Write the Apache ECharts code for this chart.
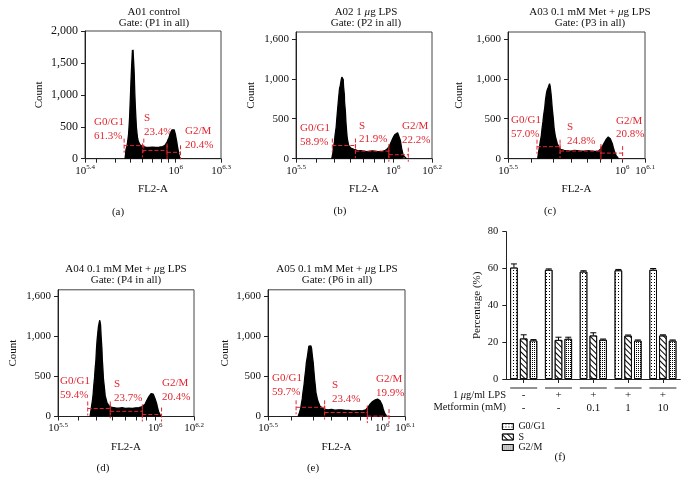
<!DOCTYPE html>
<html><head><meta charset="utf-8">
<script src="https://cdn.jsdelivr.net/npm/echarts@6/dist/echarts.min.js"></script>
<style>html,body{margin:0;padding:0;background:#fff}#c{width:689px;height:490px}</style>
</head><body><div id="c"></div>
<script>
const FONT = 'Liberation Serif';
const RED = '#e2262f';

// ---------- histogram data: [log10(FL2-A), count] ----------
const histA = [[5.665,0],[5.668,60],[5.671,140],[5.675,150],[5.678,200],[5.681,245],[5.684,300],[5.688,375],[5.691,480],[5.695,636],[5.698,820],[5.701,1000],[5.704,1200],[5.708,1417],[5.711,1560],[5.714,1700],[5.716,1640],[5.718,1704],[5.720,1600],[5.722,1573],[5.724,1430],[5.726,1313],[5.728,1150],[5.730,1000],[5.733,820],[5.737,636],[5.740,500],[5.744,401],[5.748,320],[5.753,271],[5.758,240],[5.764,219],[5.770,200],[5.780,193],[5.790,186],[5.802,182],[5.812,175],[5.824,177],[5.835,185],[5.847,182],[5.858,172],[5.869,178],[5.880,186],[5.891,182],[5.902,190],[5.914,189],[5.922,200],[5.929,208],[5.936,235],[5.943,260],[5.950,300],[5.956,333],[5.962,380],[5.969,417],[5.975,450],[5.981,464],[5.986,470],[5.990,453],[5.994,420],[5.998,386],[6.003,320],[6.007,271],[6.012,190],[6.016,141],[6.020,80],[6.025,36],[6.032,0]];
const histB = [[5.684,0],[5.689,60],[5.693,146],[5.698,210],[5.701,292],[5.707,400],[5.710,500],[5.715,640],[5.719,750],[5.724,875],[5.728,917],[5.733,990],[5.736,1020],[5.740,1042],[5.743,990],[5.745,896],[5.749,800],[5.750,708],[5.754,600],[5.757,458],[5.761,330],[5.764,250],[5.771,167],[5.782,133],[5.798,117],[5.815,104],[5.833,100],[5.850,96],[5.863,88],[5.876,92],[5.894,98],[5.911,92],[5.929,88],[5.946,92],[5.960,105],[5.971,125],[5.981,158],[5.990,208],[5.999,258],[6.008,300],[6.016,320],[6.023,325],[6.030,300],[6.037,229],[6.044,125],[6.051,50],[6.060,21],[6.069,0]];
const histC = [[5.630,0],[5.634,83],[5.638,150],[5.641,208],[5.646,290],[5.649,375],[5.653,460],[5.656,542],[5.661,640],[5.664,729],[5.668,810],[5.671,854],[5.676,890],[5.679,896],[5.682,938],[5.685,900],[5.686,885],[5.689,800],[5.691,729],[5.694,620],[5.697,542],[5.700,450],[5.702,375],[5.708,271],[5.716,188],[5.723,146],[5.731,117],[5.746,104],[5.761,100],[5.775,96],[5.790,104],[5.805,100],[5.820,96],[5.835,96],[5.850,100],[5.865,96],[5.880,92],[5.895,92],[5.904,115],[5.909,133],[5.915,165],[5.920,188],[5.924,210],[5.929,237],[5.933,255],[5.939,271],[5.944,265],[5.948,250],[5.953,225],[5.957,188],[5.962,130],[5.965,104],[5.969,70],[5.973,42],[5.979,20],[5.984,0]];
const histD = [[5.665,0],[5.670,83],[5.674,150],[5.677,196],[5.681,280],[5.684,383],[5.688,480],[5.691,592],[5.695,700],[5.698,842],[5.701,950],[5.705,1050],[5.708,1120],[5.712,1175],[5.715,1204],[5.717,1220],[5.719,1150],[5.722,1000],[5.726,850],[5.728,717],[5.731,600],[5.734,467],[5.738,380],[5.743,258],[5.752,175],[5.762,133],[5.778,113],[5.795,108],[5.813,104],[5.830,110],[5.847,100],[5.865,104],[5.882,100],[5.900,108],[5.917,112],[5.934,125],[5.943,145],[5.948,154],[5.955,190],[5.960,208],[5.967,245],[5.972,258],[5.979,285],[5.984,292],[5.990,280],[5.995,258],[6.000,220],[6.004,196],[6.009,150],[6.012,112],[6.018,60],[6.021,37],[6.030,0]];
const histE = [[5.632,0],[5.638,50],[5.643,100],[5.646,154],[5.650,220],[5.653,300],[5.658,400],[5.661,488],[5.665,580],[5.668,675],[5.673,760],[5.676,820],[5.679,880],[5.682,904],[5.685,890],[5.688,883],[5.691,850],[5.692,820],[5.695,740],[5.698,675],[5.701,570],[5.704,467],[5.707,390],[5.710,300],[5.718,196],[5.727,133],[5.740,100],[5.752,90],[5.763,83],[5.778,88],[5.793,79],[5.808,84],[5.823,83],[5.838,75],[5.853,75],[5.868,70],[5.883,71],[5.898,73],[5.913,71],[5.928,83],[5.937,112],[5.947,154],[5.958,188],[5.964,200],[5.970,208],[5.976,215],[5.980,217],[5.985,210],[5.991,196],[5.995,170],[6.000,142],[6.004,100],[6.007,71],[6.012,35],[6.015,17],[6.021,0]];

// ---------- gates: [from, to, level] ----------
const gatesA = [[5.659,5.789,205],[5.780,5.943,130],[5.943,6.032,100]];
const gatesB = [[5.687,5.806,165],[5.806,5.978,95],[5.978,6.078,50]];
const gatesC = [[5.627,5.728,150],[5.728,5.907,96],[5.907,6.002,70]];
const gatesD = [[5.653,5.769,100],[5.769,5.934,65],[5.934,6.033,25]];
const gatesE = [[5.623,5.748,115],[5.748,5.935,50],[5.935,6.030,5]];

const phaseNames = ['G0/G1','S','G2/M'];
const pctA = ['61.3%','23.4%','20.4%'];
const pctB = ['58.9%','21.9%','22.2%'];
const pctC = ['57.0%','24.8%','20.8%'];
const pctD = ['59.4%','23.7%','20.4%'];
const pctE = ['59.7%','23.4%','19.9%'];

// ---------- axis ticks ----------
const logMinorTicks = [5.477,5.602,5.699,5.778,5.845,5.903,5.954,6.0];
const yTicksA = [0,500,1000,1500,2000];
const yLabelsA = ['0','500','1,000','1,500','2,000'];
const yTicksB = [0,500,1000,1500];
const yLabelsB = ['0','500','1,000','1,600'];

// ---------- bar chart (f) ----------
const barCats = ['c1','c2','c3','c4','c5'];
const lpsRow = ['-','+','+','+','+'];
const metRow = ['-','-','0.1','1','10'];
const g0g1 = [60.5,59.3,58.3,59.0,59.3];
const g0g1Err = [2.0,0.5,0.5,0.5,0.7];
const sPh = [22.0,21.2,23.6,23.5,23.6];
const sErr = [2.0,1.5,1.5,0.4,0.4];
const g2m = [20.9,21.8,21.3,20.8,20.8];
const g2mErr = [0.5,0.9,0.4,0.4,0.4];
const pctTicks = [0,20,40,60,80];

// ---------- layout ----------
const panels = [
  {hist:histA, gates:gatesA, pct:pctA, xMin:5.4, xMax:6.3, yMax:2000, yT:yTicksA, yL:yLabelsA,
   grid:{left:85, top:31, width:136, height:127.7}, nameGap:40, yFont:12,
   t1:'A01 control', t2:'Gate: (P1 in all)', tPos:[154,12], cap:'(a)', capPos:[118,212],
   lab:[[94,122],[144,118],[185,131]]},
  {hist:histB, gates:gatesB, pct:pctB, xMin:5.5, xMax:6.2, yMax:1585, yT:yTicksB, yL:yLabelsB,
   grid:{left:296, top:32, width:136, height:126.7}, nameGap:39.5, yFont:11,
   t1:'A02 1 {i|μ}g LPS', t2:'Gate: (P2 in all)', tPos:[366,12], cap:'(b)', capPos:[340,211],
   lab:[[300,128],[359,125.5],[402,126]]},
  {hist:histC, gates:gatesC, pct:pctC, xMin:5.5, xMax:6.1, yMax:1585, yT:yTicksB, yL:yLabelsB,
   grid:{left:508, top:32, width:137, height:126.7}, nameGap:43, yFont:11,
   t1:'A03 0.1 mM Met + {i|μ}g LPS', t2:'Gate: (P3 in all)', tPos:[590,12], cap:'(c)', capPos:[550,211.5],
   lab:[[511,120],[567,127],[616,120.5]]},
  {hist:histD, gates:gatesD, pct:pctD, xMin:5.5, xMax:6.2, yMax:1585, yT:yTicksB, yL:yLabelsB,
   grid:{left:58, top:289.8, width:136, height:126.7}, nameGap:39.5, yFont:11,
   t1:'A04 0.1 mM Met + {i|μ}g LPS', t2:'Gate: (P4 in all)', tPos:[126,269], cap:'(d)', capPos:[103,468],
   lab:[[60,381],[114,384],[162,383]]},
  {hist:histE, gates:gatesE, pct:pctE, xMin:5.5, xMax:6.1, yMax:1585, yT:yTicksB, yL:yLabelsB,
   grid:{left:268, top:289.8, width:137, height:126.7}, nameGap:37, yFont:11,
   t1:'A05 0.1 mM Met + {i|μ}g LPS', t2:'Gate: (P6 in all)', tPos:[337,269], cap:'(e)', capPos:[313,468],
   lab:[[272,378],[332,385],[376,379]]}
];

const txt = (extra) => Object.assign({fill:'#111', fontFamily:FONT, fontSize:11}, extra);
const grids = [], xAxes = [], yAxes = [], series = [], graphic = [];
const supFmt = v => '{b|10}{s|' + (Math.round(v*10)/10) + '}';

panels.forEach((p, i) => {
  grids.push(Object.assign({show:true, borderColor:'#444', borderWidth:1, backgroundColor:'transparent', outerBoundsMode:'none'}, p.grid));
  const xt = [p.xMin].concat(logMinorTicks.filter(v => v > p.xMin + 0.01 && v < p.xMax - 0.01), [p.xMax]);
  xAxes.push({type:'value', gridIndex:i, min:p.xMin, max:p.xMax,
    name:'FL2-A', nameLocation:'middle', nameGap:25,
    nameTextStyle:{fontFamily:FONT, fontSize:11, color:'#111'},
    axisLine:{show:true, onZero:false, lineStyle:{color:'#222', width:1}},
    axisTick:{show:true, length:4, customValues:xt, lineStyle:{color:'#222'}},
    splitLine:{show:false},
    axisLabel:{customValues:[p.xMin, 6, p.xMax], margin:5, formatter:supFmt, showMinLabel:true, showMaxLabel:true,
      rich:{b:{fontFamily:FONT, fontSize:11, color:'#111', lineHeight:14},
            s:{fontFamily:FONT, fontSize:7, color:'#111', verticalAlign:'top', lineHeight:8}}}
  });
  yAxes.push({type:'value', gridIndex:i, min:0, max:p.yMax,
    name:'Count', nameLocation:'middle', nameGap:p.nameGap,
    nameTextStyle:{fontFamily:FONT, fontSize:11, color:'#111'},
    axisLine:{show:true, lineStyle:{color:'#222', width:1}},
    axisTick:{show:true, length:4, customValues:p.yT, lineStyle:{color:'#222'}},
    splitLine:{show:false},
    axisLabel:{customValues:p.yT, margin:7, fontFamily:FONT, fontSize:p.yFont, color:'#111',
      formatter: v => p.yL[p.yT.indexOf(v)]}
  });
  series.push({type:'line', xAxisIndex:i, yAxisIndex:i, data:p.hist, symbol:'none', silent:true,
    lineStyle:{color:'#000', width:1.3}, areaStyle:{color:'#000', opacity:1}, z:2});
  series.push({type:'custom', xAxisIndex:i, yAxisIndex:i, data:p.gates, silent:true, z:5,
    encode:{x:[0,1], y:2},
    renderItem:(params, api) => {
      const a = api.coord([api.value(0), api.value(2)]);
      const b = api.coord([api.value(1), api.value(2)]);
      const st = {stroke:RED, lineWidth:1, lineDash:[4,2], fill:null};
      return {type:'group', children:[
        {type:'line', shape:{x1:a[0], y1:a[1], x2:b[0], y2:b[1]}, style:st},
        {type:'line', shape:{x1:a[0], y1:a[1]-7, x2:a[0], y2:a[1]+7}, style:st},
        {type:'line', shape:{x1:b[0], y1:b[1]-7, x2:b[0], y2:b[1]+7}, style:st}
      ]};
    }});
  graphic.push({type:'text', x:p.tPos[0], y:p.tPos[1], silent:true,
    style:txt({text:p.t1, align:'center', verticalAlign:'middle', rich:{i:{fontFamily:FONT, fontSize:11, fontStyle:'italic', fill:'#111'}}})});
  graphic.push({type:'text', x:p.tPos[0], y:p.tPos[1]+11.5, silent:true,
    style:txt({text:p.t2, align:'center', verticalAlign:'middle'})});
  graphic.push({type:'text', x:p.capPos[0], y:p.capPos[1], silent:true,
    style:txt({text:p.cap, align:'center', verticalAlign:'middle'})});
  p.lab.forEach((pos, k) => {
    graphic.push({type:'text', x:pos[0], y:pos[1]-6.5, silent:true,
      style:txt({text:phaseNames[k] + '\n' + p.pct[k], fill:RED, align:'left', verticalAlign:'top', lineHeight:13.5})});
  });
});

// ---------- bar chart (f) ----------
const FI = 5;
grids.push({left:506.3, top:231.7, width:174, height:147.3, show:false, outerBoundsMode:'none'});
xAxes.push({type:'category', gridIndex:FI, data:barCats,
  axisLine:{show:true, lineStyle:{color:'#222', width:1}},
  axisTick:{show:true, alignWithLabel:true, length:4, lineStyle:{color:'#222'}},
  axisLabel:{margin:10, fontFamily:FONT, fontSize:11, color:'#111', lineHeight:12.7,
    formatter:(v, idx) => lpsRow[idx] + '\n' + metRow[idx]}
});
yAxes.push({type:'value', gridIndex:FI, min:0, max:80, interval:20,
  name:'Percentage (%)', nameLocation:'middle', nameGap:23.5,
  nameTextStyle:{fontFamily:FONT, fontSize:11, color:'#111'},
  axisLine:{show:true, lineStyle:{color:'#222', width:1}},
  axisTick:{show:true, length:4, customValues:pctTicks, lineStyle:{color:'#222'}},
  splitLine:{show:false},
  axisLabel:{customValues:pctTicks, margin:8, fontFamily:FONT, fontSize:10.5, color:'#111', formatter:v => String(v)}
});
const decals = [
  {color:'#000', symbol:'rect', symbolSize:1, dashArrayX:[1,2], dashArrayY:[1,2]},
  {color:'#000', symbol:'rect', symbolSize:1, dashArrayX:[1,0], dashArrayY:[1,2.5], rotation:Math.PI/4},
  {color:'#000', symbol:'rect', symbolSize:1, dashArrayX:[1,1], dashArrayY:[1,1]}
];
const BW = 7.5, BG = 2.25;
[[phaseNames[0], g0g1], [phaseNames[1], sPh], [phaseNames[2], g2m]].forEach((s, k) => {
  series.push({type:'bar', name:s[0], xAxisIndex:FI, yAxisIndex:FI, data:s[1], barWidth:BW, barGap:'30%',
    itemStyle:{color:'#fff', borderColor:'#000', borderWidth:0.8, decal:decals[k]}});
});
[[g0g1, g0g1Err], [sPh, sErr], [g2m, g2mErr]].forEach((s, k) => {
  series.push({type:'custom', xAxisIndex:FI, yAxisIndex:FI, silent:true, z:6,
    data:s[0].map((v, i) => [i, v, s[1][i]]), encode:{x:0, y:1},
    renderItem:(params, api) => {
      const base = api.coord([api.value(0), api.value(1)]);
      const top = api.coord([api.value(0), api.value(1) + api.value(2)]);
      const x = base[0] + (k - 1) * (BW + BG);
      const st = {stroke:'#000', lineWidth:1};
      return {type:'group', children:[
        {type:'line', shape:{x1:x, y1:base[1], x2:x, y2:top[1]}, style:st},
        {type:'line', shape:{x1:x-3, y1:top[1], x2:x+3, y2:top[1]}, style:st}
      ]};
    }});
});
graphic.push({type:'text', x:506, y:395, silent:true, style:txt({text:'1 {i|μ}g/ml LPS', align:'right', verticalAlign:'middle', fontSize:10.5, rich:{i:{fontFamily:FONT, fontSize:10.5, fontStyle:'italic', fill:'#111'}}})});
graphic.push({type:'text', x:506, y:407.5, silent:true, style:txt({text:'Metformin (mM)', align:'right', verticalAlign:'middle', fontSize:10.5})});
graphic.push({type:'text', x:560, y:457, silent:true, style:txt({text:'(f)', align:'center', verticalAlign:'middle'})});

const chart = echarts.init(document.getElementById('c'), null, {renderer:'canvas'});
chart.setOption({
  animation:false,
  backgroundColor:'#fff',
  grid:grids, xAxis:xAxes, yAxis:yAxes, series:series,
  legend:{data:phaseNames, orient:'vertical', left:502, top:421.5, padding:0, icon:'rect', itemWidth:11, itemHeight:6, itemGap:0.5,
    itemStyle:{borderColor:'#000', borderWidth:0.8}, selectedMode:false,
    textStyle:{fontFamily:FONT, fontSize:10, color:'#111', lineHeight:7.5}},
  graphic:graphic
});
barCats.forEach((c, i) => {
  const cx = chart.convertToPixel({xAxisIndex:FI}, c);
  graphic.push({type:'line', silent:true, shape:{x1:cx-13.5, y1:388, x2:cx+13.5, y2:388}, style:{stroke:'#222', lineWidth:1}});
});
chart.setOption({graphic:graphic});
</script></body></html>
